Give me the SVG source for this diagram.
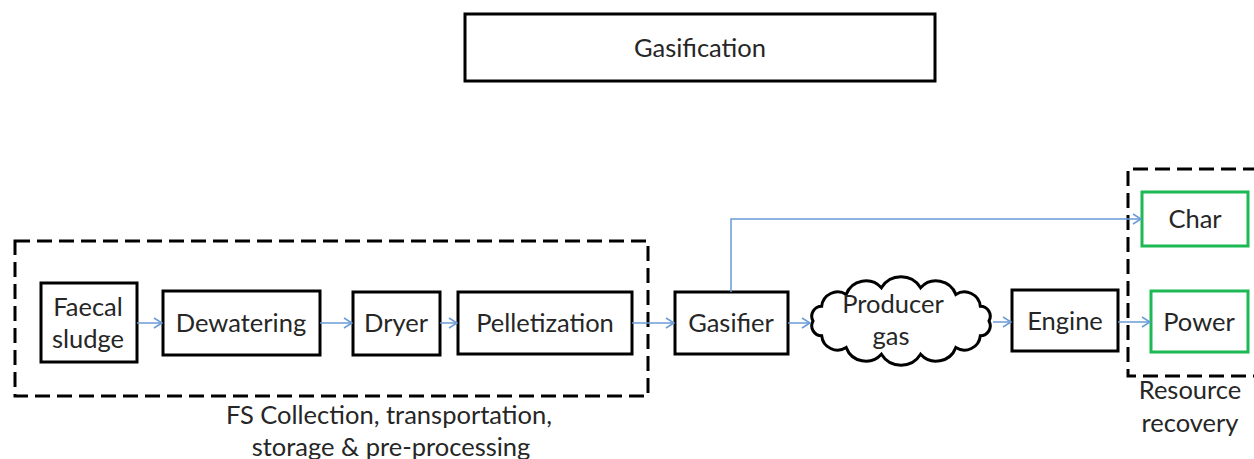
<svg xmlns="http://www.w3.org/2000/svg" width="1254" height="459" viewBox="0 0 1254 459">
  <style>
    .box { fill: #ffffff; stroke: #000000; stroke-width: 3; }
    .out { fill: #ffffff; stroke: #1db954; stroke-width: 3; }
    .group { fill: none; stroke: #000000; stroke-width: 3; stroke-dasharray: 15 7; }
    .lbl { font-family: Lato, "Liberation Sans", sans-serif; font-size: 25.5px; fill: #262626; text-anchor: middle; }
    .link { fill: none; stroke: #6b9bd6; stroke-width: 1.5; }
  </style>
  <defs>
    <marker id="arrow" viewBox="0 0 10 12" refX="9" refY="6" markerWidth="10" markerHeight="12" markerUnits="userSpaceOnUse" orient="auto">
      <path d="M1,1 L9,6 L1,11" fill="none" stroke="#6b9bd6" stroke-width="1.5"/>
    </marker>
  </defs>

  <g id="title">
    <rect class="box" x="465" y="14" width="470" height="67"/>
    <text class="lbl" x="700" y="57">Gasification</text>
  </g>

  <g id="preprocessing-group">
    <rect class="group" x="15" y="241" width="633" height="155"/>
    <text class="lbl" x="389" y="424">FS Collection, transportation,</text>
    <text class="lbl" x="391" y="456">storage &amp; pre-processing</text>
  </g>

  <g id="recovery-group">
    <path class="group" d="M1258,169 L1128,169 L1128,376 L1258,376"/>
    <text class="lbl" x="1190" y="399">Resource</text>
    <text class="lbl" x="1190" y="432">recovery</text>
  </g>

  <g id="faecal-sludge">
    <rect class="box" x="41" y="283" width="96" height="79"/>
    <text class="lbl" x="88" y="316">Faecal</text>
    <text class="lbl" x="88" y="348">sludge</text>
  </g>

  <g id="dewatering">
    <rect class="box" x="163" y="291" width="157" height="64"/>
    <text class="lbl" x="241" y="332">Dewatering</text>
  </g>

  <g id="dryer">
    <rect class="box" x="353" y="292" width="87" height="63"/>
    <text class="lbl" x="396" y="332">Dryer</text>
  </g>

  <g id="pelletization">
    <rect class="box" x="458" y="292" width="174" height="62"/>
    <text class="lbl" x="545" y="332">Pelletization</text>
  </g>

  <g id="gasifier">
    <rect class="box" x="675" y="292" width="113" height="62"/>
    <text class="lbl" x="731" y="332">Gasifier</text>
  </g>

  <g id="producer-gas">
    <path class="box" d="M989,321 A10,10 0 0 1 980.3,335.8 A16,16 0 0 1 955.8,347.6 A21,21 0 0 1 920.6,354.2 A23,23 0 0 1 881.4,354.2 A21,21 0 0 1 846.2,347.6 A16,16 0 0 1 821.7,335.8 A10,10 0 0 1 813,321 A10,10 0 0 1 821.7,306.2 A16,16 0 0 1 846.2,294.4 A21,21 0 0 1 881.4,287.8 A23,23 0 0 1 920.6,287.8 A21,21 0 0 1 955.8,294.4 A16,16 0 0 1 980.3,306.2 A10,10 0 0 1 989,321 Z"/>
    <text class="lbl" x="893" y="313">Producer</text>
    <text class="lbl" x="891" y="345">gas</text>
  </g>

  <g id="engine">
    <rect class="box" x="1012" y="290" width="106" height="61"/>
    <text class="lbl" x="1065" y="330">Engine</text>
  </g>

  <g id="char">
    <rect class="out" x="1142" y="192" width="106" height="54"/>
    <text class="lbl" x="1195" y="228">Char</text>
  </g>

  <g id="power">
    <rect class="out" x="1151" y="291" width="97" height="61"/>
    <text class="lbl" x="1199" y="331">Power</text>
  </g>

  <g id="connectors">
    <path class="link" d="M137,323 H162" marker-end="url(#arrow)"/>
    <path class="link" d="M320,323 H352" marker-end="url(#arrow)"/>
    <path class="link" d="M440,323 H457" marker-end="url(#arrow)"/>
    <path class="link" d="M632,323 H674" marker-end="url(#arrow)"/>
    <path class="link" d="M788,323 H810" marker-end="url(#arrow)"/>
    <path class="link" d="M993,322 H1011" marker-end="url(#arrow)"/>
    <path class="link" d="M1118,322 H1150" marker-end="url(#arrow)"/>
    <path class="link" d="M731,292 V219 H1141" marker-end="url(#arrow)"/>
  </g>
</svg>
